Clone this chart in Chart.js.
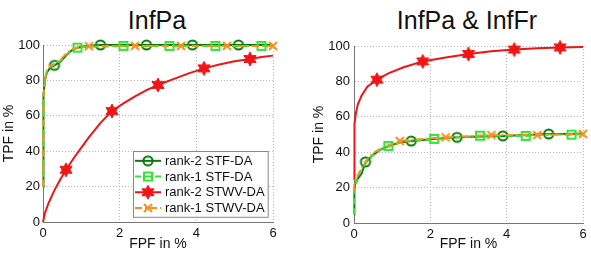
<!DOCTYPE html>
<html>
<head>
<meta charset="utf-8">
<script src="https://cdn.jsdelivr.net/npm/chart.js@4.4.1/dist/chart.umd.min.js"></script>
<style>
  body { margin: 0; background: #fff; }
  #wrap { position: relative; width: 591px; height: 260px; overflow: hidden; font-family: 'Liberation Sans', Arial, sans-serif; }
  .titulo { position: absolute; top: 8px; width: 300px; font-size: 25px; line-height: 25px; color: #111; text-align: center; white-space: nowrap; }
  canvas { position: absolute; top: 0; }
</style>
</head>
<body>
<div id="wrap">
  <div class="titulo" style="left:7px">InfPa</div>
  <div class="titulo" style="left:317px">InfPa &amp; InfFr</div>
  <canvas id="graficoIzq" width="300" height="260" style="left:0"></canvas>
  <canvas id="graficoDer" width="291" height="260" style="left:300px"></canvas>
</div>
<script>
// ==========================================
// DATOS
// ==========================================
const etiquetas = ['rank-2 STF-DA', 'rank-1 STF-DA', 'rank-2 STWV-DA', 'rank-1 STWV-DA'];
const ticksFpf = [0, 2, 4, 6];
const ticksTpf = [0, 20, 40, 60, 80, 100];

// Gráfico izquierdo: InfPa
const fpfIzqR2stf = [0, 0.005, 0.02, 0.05, 0.1, 0.2, 0.3, 0.45, 0.6, 0.75, 0.9, 1.1, 1.3, 1.5, 2.7, 3.9, 5.1, 6];
const tpfIzqR2stf = [20, 55, 72, 80, 84.5, 87.5, 88.5, 90.5, 94, 97, 98.5, 99.3, 99.7, 100, 100, 100, 100, 100];
const marcasIzqR2stf = [0.3, 1.5, 2.7, 3.9, 5.1];

const fpfIzqR1stf = [0, 0.005, 0.02, 0.05, 0.1, 0.2, 0.3, 0.45, 0.6, 0.75, 0.9, 1.2, 2.1, 3.3, 4.5, 5.7, 6];
const tpfIzqR1stf = [20, 55, 72, 80, 85, 88, 89, 91, 94.5, 97, 98.5, 99, 99.5, 99.5, 99.5, 99.5, 99.5];
const marcasIzqR1stf = [0.9, 2.1, 3.3, 4.5, 5.7];

const fpfIzqR2stwv = [0, 0.05, 0.15, 0.3, 0.45, 0.6, 0.8, 1.0, 1.2, 1.5, 1.8, 2.1, 2.4, 2.7, 3.0, 3.4, 3.8, 4.2, 4.6, 5.0, 5.4, 5.7, 6];
const tpfIzqR2stwv = [0, 5, 11, 18, 24, 29.5, 36, 42, 48, 56, 62.7, 67, 71, 74.5, 77.4, 80.7, 84, 86.8, 89, 90.8, 92.1, 93.2, 94];
const marcasIzqR2stwv = [0.6, 1.8, 3.0, 4.2, 5.4];

const fpfIzqR1stwv = [0, 0.005, 0.02, 0.05, 0.1, 0.2, 0.3, 0.45, 0.6, 0.75, 0.9, 1.2, 2.4, 3.6, 4.8, 6];
const tpfIzqR1stwv = [20, 56, 73, 81, 85.5, 88.5, 89.5, 91.5, 95, 97.5, 98.7, 99.3, 99.5, 99.5, 99.5, 99.5];
const marcasIzqR1stwv = [1.2, 2.4, 3.6, 4.8, 6];

// Gráfico derecho: InfPa & InfFr
const fpfDerR2stf = [0, 0.01, 0.03, 0.1, 0.2, 0.3, 0.5, 0.7, 0.9, 1.2, 1.5, 2.1, 2.7, 3.3, 3.9, 4.5, 5.1, 5.6, 6];
const tpfDerR2stf = [5, 18, 22, 25, 28, 34.5, 38.5, 41.5, 43.5, 45.5, 46.3, 47.5, 48.4, 48.8, 49.2, 49.7, 50.3, 50.3, 50.6];
const marcasDerR2stf = [0.3, 1.5, 2.7, 3.9, 5.1];

const fpfDerR1stf = [0, 0.01, 0.03, 0.1, 0.2, 0.35, 0.5, 0.7, 0.9, 1.2, 1.5, 2.1, 2.7, 3.3, 3.9, 4.5, 5.1, 5.7, 6];
const tpfDerR1stf = [5, 18, 22, 26, 30, 35, 38.5, 41.5, 43.5, 45.5, 46.5, 47.5, 48.3, 49.3, 49.3, 49.2, 50, 49.9, 50];
const marcasDerR1stf = [0.9, 2.1, 3.3, 4.5, 5.7];

const fpfDerR2stwv = [0, 0.005, 0.02, 0.05, 0.1, 0.2, 0.35, 0.6, 0.9, 1.3, 1.8, 2.4, 3.0, 3.6, 4.2, 4.8, 5.4, 6];
const tpfDerR2stwv = [24, 45, 56, 62, 67, 72, 77, 81, 84.5, 88, 91.3, 93.5, 95.5, 97, 98, 98.7, 99.2, 99.5];
const marcasDerR2stwv = [0.6, 1.8, 3.0, 4.2, 5.4];

const fpfDerR1stwv = [0, 0.01, 0.03, 0.1, 0.2, 0.35, 0.5, 0.7, 0.9, 1.2, 1.5, 2.0, 2.4, 3.0, 3.6, 4.2, 4.8, 5.4, 6];
const tpfDerR1stwv = [18, 22, 24.5, 27, 31, 36, 39.5, 42, 44, 46.3, 47, 47.8, 48.4, 49, 49.7, 49.7, 49.7, 50, 50.3];
const marcasDerR1stwv = [1.2, 2.4, 3.6, 4.8, 6];

// ==========================================
// ESTILOS: colores y marcadores tipo MATLAB
// ==========================================
const colores = ['#0c7a0c', '#33e633', '#f01414', '#f98f1f'];
const guiones = [[], [6, 4], [], [7, 3, 2, 3]];

function lienzo(tam, dibujar) {
    const c = document.createElement('canvas');
    c.width = tam; c.height = tam;
    const g = c.getContext('2d');
    dibujar(g, tam / 2);
    return c;
}

const marcas = [
    // círculo hueco
    lienzo(14, (g, m) => {
        g.strokeStyle = colores[0]; g.lineWidth = 2;
        g.beginPath(); g.arc(m, m, 4.6, 0, Math.PI * 2); g.stroke();
    }),
    // cuadrado hueco
    lienzo(14, (g, m) => {
        g.strokeStyle = colores[1]; g.lineWidth = 2;
        g.strokeRect(m - 4, m - 4, 8, 8);
    }),
    // hexagrama relleno
    lienzo(16, (g, m) => {
        g.fillStyle = colores[2]; g.strokeStyle = colores[2]; g.lineWidth = 1;
        g.beginPath();
        for (let i = 0; i < 12; i++) {
            const r = i % 2 === 0 ? 7 : 3.8;
            const a = -Math.PI / 2 + i * Math.PI / 6;
            const px = m + r * Math.cos(a), py = m + r * Math.sin(a);
            if (i === 0) g.moveTo(px, py); else g.lineTo(px, py);
        }
        g.closePath(); g.fill(); g.stroke();
    }),
    // aspa
    lienzo(14, (g, m) => {
        g.strokeStyle = colores[3]; g.lineWidth = 2;
        g.beginPath();
        g.moveTo(m - 4, m - 4); g.lineTo(m + 4, m + 4);
        g.moveTo(m + 4, m - 4); g.lineTo(m - 4, m + 4);
        g.stroke();
    })
];

function serie(i, fpf, tpf, conMarca) {
    return {
        label: etiquetas[i],
        data: fpf.map((x, k) => ({ x: x, y: tpf[k] })),
        borderColor: colores[i],
        backgroundColor: colores[i],
        borderWidth: 2,
        borderDash: guiones[i],
        tension: 0,
        fill: false,
        clip: false,
        order: 3 - i, // la última serie queda encima, como en MATLAB
        marca: marcas[i],
        pointStyle: marcas[i],
        pointRadius: ctx => conMarca.includes(fpf[ctx.dataIndex]) ? 5 : 0,
        pointHoverRadius: 0
    };
}

// Leyenda en caja blanca, abajo a la derecha del área del gráfico
const leyendaCaja = {
    id: 'leyendaCaja',
    afterDatasetsDraw(chart, args, opts) {
        if (!opts.mostrar) return;
        const { ctx, chartArea } = chart;
        const conjuntos = chart.data.datasets;
        ctx.save();
        ctx.font = '13px "Liberation Sans", Arial, sans-serif';
        const anchoTexto = Math.max(...conjuntos.map(d => ctx.measureText(d.label).width));
        const fila = 15.7, muestra = 26;
        const w = 1 + muestra + 4 + anchoTexto + 4;
        const h = conjuntos.length * fila + 3;
        const x0 = Math.round(chartArea.right - 5 - w), y0 = Math.round(chartArea.bottom - 5 - h);
        ctx.fillStyle = '#fff';
        ctx.fillRect(x0, y0, w, h);
        ctx.strokeStyle = '#888'; ctx.lineWidth = 1;
        ctx.strokeRect(x0 + 0.5, y0 + 0.5, w, h);
        conjuntos.forEach((d, i) => {
            const yc = y0 + 2 + fila * (i + 0.5);
            ctx.setLineDash(d.borderDash);
            ctx.strokeStyle = d.borderColor; ctx.lineWidth = d.borderWidth;
            ctx.beginPath(); ctx.moveTo(x0 + 2, yc); ctx.lineTo(x0 + 2 + muestra, yc); ctx.stroke();
            ctx.setLineDash([]);
            const img = d.marca;
            ctx.drawImage(img, x0 + 2 + muestra / 2 - img.width / 2, yc - img.height / 2);
            ctx.fillStyle = '#111'; ctx.textBaseline = 'middle'; ctx.textAlign = 'left';
            ctx.fillText(d.label, x0 + 2 + muestra + 4, yc + 0.5);
        });
        ctx.restore();
    }
};

Chart.defaults.font.family = "'Liberation Sans', Arial, sans-serif";
Chart.defaults.font.size = 13;
Chart.defaults.color = '#111';

function crearGrafico(id, conjuntos, cfg) {
    return new Chart(document.getElementById(id), {
        type: 'line',
        data: { datasets: conjuntos },
        plugins: [leyendaCaja],
        options: {
            responsive: false,
            animation: false,
            events: [],
            layout: { padding: { left: 0, top: cfg.arriba, right: cfg.derecha, bottom: 0 } },
            plugins: {
                legend: { display: false },
                tooltip: { enabled: false },
                leyendaCaja: { mostrar: cfg.leyenda }
            },
            scales: {
                x: {
                    type: 'linear', min: 0, max: 6,
                    afterBuildTicks: s => { s.ticks = ticksFpf.map(v => ({ value: v })); },
                    afterFit: s => { s.height = cfg.altoX; },
                    grid: { color: '#b8b8b8', lineWidth: 1, drawTicks: false },
                    border: { display: true, color: '#777', width: 1, dash: [1, 2] },
                    ticks: { padding: 4, font: { size: 13 } },
                    title: { display: true, text: 'FPF in %', font: { size: 14 }, padding: { top: 0, bottom: 7 } }
                },
                y: {
                    type: 'linear', min: 0, max: 100,
                    afterBuildTicks: s => { s.ticks = ticksTpf.map(v => ({ value: v })); },
                    afterFit: s => { s.width = cfg.anchoY; },
                    grid: { color: '#b8b8b8', lineWidth: 1, drawTicks: false },
                    border: { display: true, color: '#777', width: 1, dash: [1, 2] },
                    ticks: { padding: cfg.padY, font: { size: 13 } },
                    title: { display: true, text: 'TPF in %', font: { size: 14 }, padding: { top: cfg.padTitY, bottom: 0 } }
                }
            }
        }
    });
}

crearGrafico('graficoIzq', [
    serie(0, fpfIzqR2stf, tpfIzqR2stf, marcasIzqR2stf),
    serie(1, fpfIzqR1stf, tpfIzqR1stf, marcasIzqR1stf),
    serie(2, fpfIzqR2stwv, tpfIzqR2stwv, marcasIzqR2stwv),
    serie(3, fpfIzqR1stwv, tpfIzqR1stwv, marcasIzqR1stwv)
], { arriba: 45, derecha: 27, altoX: 38, anchoY: 43, padY: 3, padTitY: 1, leyenda: true });

crearGrafico('graficoDer', [
    serie(0, fpfDerR2stf, tpfDerR2stf, marcasDerR2stf),
    serie(1, fpfDerR1stf, tpfDerR1stf, marcasDerR1stf),
    serie(2, fpfDerR2stwv, tpfDerR2stwv, marcasDerR2stwv),
    serie(3, fpfDerR1stwv, tpfDerR1stwv, marcasDerR1stwv)
], { arriba: 46, derecha: 8, altoX: 37, anchoY: 54, padY: 4, padTitY: 11, leyenda: false });
</script>
</body>
</html>
